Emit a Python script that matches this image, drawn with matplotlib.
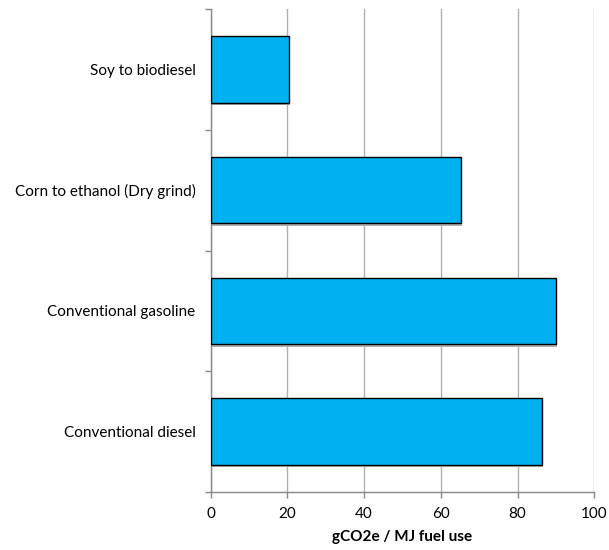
import matplotlib
matplotlib.use("Agg")
import matplotlib.pyplot as plt
import numpy as np

categories = ["Conventional diesel", "Conventional gasoline",
              "Corn to ethanol (Dry grind)", "Soy to biodiesel"]
values = [86.3, 90.1, 65.3, 20.3]
x_ticks = [0, 20, 40, 60, 80, 100]

plt.rcParams['font.family'] = ['Lato', 'DejaVu Sans']

fig = plt.figure(figsize=(6.09, 5.5), dpi=100)
ax = fig.add_axes([0.346, 0.1055, 0.6298, 0.878])

ypos = np.arange(len(categories))
# subtle shadow
ax.barh(ypos - 0.02, values, height=0.55, color='#b0b0b0', zorder=2, left=0.3)
ax.barh(ypos, values, height=0.55, color='#00B0F0', edgecolor='black',
        linewidth=1.0, zorder=3)

ax.set_xlim(0, 100)
ax.set_ylim(-0.5, len(categories) - 0.5)
ax.set_xticks(x_ticks)
ax.set_xticklabels([str(t) for t in x_ticks], fontsize=11)
ax.set_yticks(ypos)
ax.set_yticklabels(categories, fontsize=11)
ax.tick_params(axis='y', which='major', length=0, pad=11)
ax.set_yticks(np.arange(-0.5, len(categories), 1.0), minor=True)
ax.tick_params(axis='y', which='minor', length=4.5, color='#888888', width=1)
ax.tick_params(axis='x', length=4, color='#888888', width=1, pad=7)

ax.xaxis.grid(True, color='#b0b0b0', linewidth=1.0, zorder=0)
ax.set_axisbelow(True)
for s in ['top', 'right']:
    ax.spines[s].set_visible(False)
for s in ['left', 'bottom']:
    ax.spines[s].set_color('#888888')
    ax.spines[s].set_linewidth(1.0)

ax.set_xlabel("gCO2e / MJ fuel use", fontsize=11, fontweight='bold', labelpad=6)

fig.savefig("out.png", dpi=100)
